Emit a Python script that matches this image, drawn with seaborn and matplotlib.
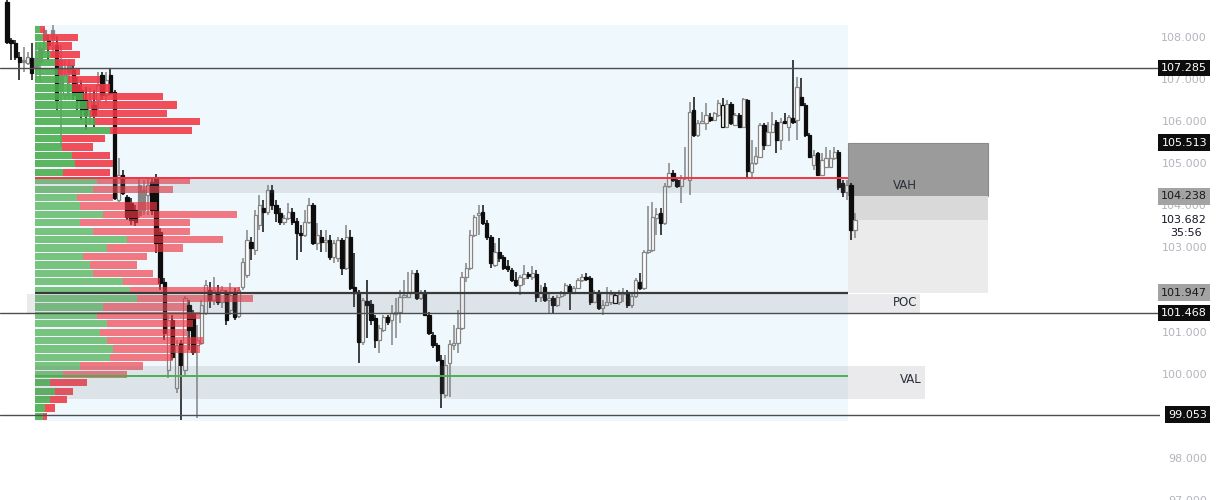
import numpy as np
import matplotlib
matplotlib.use("Agg")
import matplotlib.pyplot as plt
import matplotlib.transforms as mtransforms
from matplotlib.patches import Rectangle
from matplotlib.colors import to_rgba
import seaborn as sns

# ---- candles (one per bar, oldest first) ----
opens = [108.85, 107.95, 107.88, 107.55, 107.48, 107.41, 107.53, 107.53, 107.76, 108.19,
         107.95, 108.19, 107.83, 107.48, 106.65, 107.36, 107.24, 106.88, 106.76, 106.53,
         106.29, 106.41, 106.53, 107.12, 106.65, 107.12, 106.72, 104.15, 104.75, 104.22,
         104.08, 103.91, 104.51, 104.39, 104.27, 104.58, 104.67, 103.39, 102.20, 100.11,
         101.30, 99.69, 100.76, 100.11, 101.66, 101.47, 100.71, 100.76, 101.47, 102.01,
         101.78, 101.97, 101.73, 101.97, 101.54, 101.97, 101.40, 102.09, 102.37, 103.15,
         102.96, 103.56, 103.96, 103.87, 104.39, 104.03, 103.84, 103.63, 103.72, 103.87,
         103.65, 103.37, 103.32, 103.63, 104.03, 103.13, 103.27, 103.15, 103.20, 102.80,
         102.78, 103.20, 102.54, 103.27, 102.09, 101.97, 100.78, 101.75, 101.68, 101.35,
         100.83, 101.06, 101.37, 101.30, 101.44, 101.49, 101.85, 101.85, 101.97, 102.42,
         101.82, 101.97, 101.42, 100.95, 100.71, 100.35, 99.52, 100.28, 100.71, 100.76,
         101.11, 102.32, 102.54, 103.32, 103.80, 103.87, 103.61, 103.27, 102.61, 102.92,
         102.80, 102.58, 102.49, 102.25, 102.13, 102.30, 102.39, 102.32, 102.39, 101.85,
         102.09, 101.78, 101.82, 101.66, 101.87, 101.94, 102.11, 101.94, 102.06, 102.25,
         102.32, 102.30, 101.73, 101.97, 101.59, 101.66, 101.73, 101.71, 101.73, 101.94,
         101.97, 101.66, 101.87, 102.20, 102.06, 102.92, 102.96, 103.72, 103.84, 103.61,
         104.49, 104.79, 104.63, 104.49, 104.67, 104.63, 106.29, 105.70, 105.98, 105.98,
         106.12, 106.05, 106.17, 105.89, 105.89, 106.43, 105.93, 106.17, 105.89, 106.53,
         104.82, 105.03, 105.17, 105.93, 105.46, 105.77, 106.00, 105.58, 106.03, 105.89,
         106.10, 106.05, 106.60, 106.41, 105.70, 104.98, 105.27, 104.75, 104.94, 104.94,
         105.15, 105.29, 104.56, 104.34, 104.51, 103.44]
highs = [109.14, 108.00, 107.95, 107.67, 107.79, 107.67, 107.88, 107.88, 107.88, 108.24,
         108.07, 108.31, 108.05, 107.83, 107.48, 107.48, 107.36, 107.07, 107.00, 106.84,
         106.81, 106.76, 107.19, 107.19, 107.19, 107.29, 106.76, 105.15, 104.86, 104.27,
         104.20, 104.03, 104.67, 104.63, 104.67, 104.67, 104.77, 103.49, 102.30, 101.42,
         101.42, 100.83, 100.83, 101.87, 101.78, 101.54, 101.18, 101.78, 102.25, 102.20,
         102.32, 102.13, 102.11, 102.01, 102.18, 102.06, 102.09, 102.78, 103.44, 103.27,
         103.91, 104.27, 104.15, 104.51, 104.51, 104.15, 103.96, 103.80, 104.08, 103.96,
         103.72, 103.56, 103.91, 104.20, 104.08, 103.61, 103.44, 103.44, 103.32, 103.20,
         103.27, 103.25, 103.56, 103.44, 102.89, 102.01, 101.82, 102.25, 101.78, 101.42,
         101.18, 101.42, 101.42, 101.66, 101.82, 102.01, 102.25, 102.44, 102.49, 102.49,
         102.01, 102.01, 101.49, 101.02, 100.76, 100.47, 100.47, 100.83, 101.18, 101.54,
         102.44, 102.66, 103.44, 103.80, 104.03, 104.03, 103.68, 103.32, 103.13, 103.25,
         102.85, 102.73, 102.54, 102.44, 102.37, 102.61, 102.44, 102.58, 102.49, 102.13,
         102.18, 101.94, 101.87, 101.90, 101.99, 102.18, 102.16, 102.11, 102.30, 102.39,
         102.42, 102.35, 102.01, 102.01, 101.78, 102.09, 102.01, 101.97, 102.01, 102.06,
         102.01, 101.92, 102.30, 102.42, 102.96, 104.01, 104.10, 103.96, 103.96, 104.56,
         105.03, 104.86, 104.67, 104.75, 105.41, 106.48, 106.60, 106.05, 106.24, 106.46,
         106.22, 106.24, 106.53, 106.58, 106.53, 106.48, 106.22, 106.22, 106.58, 106.55,
         105.58, 105.41, 105.98, 105.98, 106.00, 106.24, 106.05, 106.10, 106.22, 106.17,
         107.48, 107.07, 107.05, 106.46, 105.74, 105.34, 105.29, 105.27, 105.41, 105.34,
         105.41, 105.34, 104.63, 104.63, 104.56, 103.84]
lows = [107.86, 107.48, 107.48, 107.00, 107.19, 107.36, 107.00, 106.95, 106.95, 107.64,
        107.48, 107.55, 106.29, 105.41, 106.53, 106.53, 106.53, 106.29, 106.05, 105.81,
        105.93, 105.89, 106.29, 106.53, 106.46, 106.65, 104.15, 104.10, 104.27, 103.68,
        103.56, 103.54, 103.72, 103.80, 103.80, 103.80, 102.89, 102.01, 100.83, 99.92,
        100.35, 99.57, 98.93, 99.99, 100.59, 100.47, 98.97, 100.71, 101.42, 101.59,
        101.66, 101.66, 101.59, 101.18, 101.42, 101.30, 101.35, 102.01, 102.30, 102.73,
        102.85, 103.44, 103.39, 103.80, 103.91, 103.63, 103.56, 103.56, 103.68, 103.56,
        102.73, 102.92, 103.27, 103.58, 103.08, 102.96, 102.92, 102.92, 102.73, 102.66,
        102.68, 102.37, 102.49, 102.01, 101.61, 100.28, 100.71, 100.88, 101.18, 100.64,
        100.52, 101.02, 101.18, 100.71, 100.88, 101.23, 101.82, 101.82, 101.92, 101.78,
        101.78, 101.40, 100.95, 100.64, 100.30, 99.21, 99.45, 99.47, 100.59, 100.52,
        101.06, 102.20, 102.49, 103.27, 103.32, 103.56, 103.20, 102.54, 102.56, 102.68,
        102.49, 102.44, 102.20, 102.09, 101.90, 102.13, 102.28, 102.25, 101.73, 101.73,
        101.73, 101.47, 101.47, 101.61, 101.82, 101.87, 101.54, 101.92, 102.04, 102.20,
        102.23, 101.66, 101.71, 101.54, 101.42, 101.63, 101.66, 101.68, 101.66, 101.73,
        101.59, 101.59, 101.82, 102.01, 102.01, 102.87, 102.92, 103.32, 103.32, 103.56,
        104.44, 104.58, 104.44, 104.08, 104.63, 104.27, 105.65, 105.65, 105.96, 105.81,
        106.00, 106.03, 106.12, 105.86, 105.86, 105.93, 105.91, 105.86, 105.86, 104.67,
        104.67, 104.98, 105.15, 105.34, 105.43, 105.74, 105.27, 105.34, 105.96, 105.55,
        105.96, 105.58, 106.39, 105.65, 105.15, 104.86, 104.72, 104.72, 104.91, 104.91,
        105.10, 104.39, 104.22, 104.15, 103.20, 103.25]
closes = [107.91, 107.88, 107.55, 107.43, 107.43, 107.55, 107.17, 107.29, 107.43, 107.95,
          107.83, 108.00, 106.53, 106.76, 107.12, 107.19, 106.65, 106.53, 106.29, 106.17,
          106.53, 106.17, 106.88, 106.65, 107.00, 106.69, 104.20, 104.75, 104.32, 103.75,
          103.68, 103.63, 103.80, 103.91, 104.51, 103.91, 103.13, 102.18, 100.99, 101.30,
          100.42, 100.71, 100.23, 101.82, 101.06, 100.54, 100.83, 101.66, 102.13, 101.78,
          102.01, 101.73, 102.01, 101.30, 101.90, 101.37, 102.01, 102.68, 103.20, 103.01,
          103.80, 104.03, 103.87, 104.39, 104.03, 103.84, 103.63, 103.72, 103.87, 103.63,
          103.37, 103.32, 103.63, 104.03, 103.13, 103.32, 103.15, 103.20, 102.80, 103.13,
          103.20, 102.54, 103.27, 102.06, 101.94, 100.78, 101.78, 101.66, 101.30, 100.83,
          101.11, 101.37, 101.25, 101.47, 101.49, 101.85, 101.90, 101.97, 102.42, 101.82,
          101.94, 101.42, 100.99, 100.71, 100.35, 99.57, 100.23, 100.73, 100.76, 101.11,
          102.32, 102.54, 103.32, 103.75, 103.84, 103.61, 103.27, 102.66, 102.92, 102.78,
          102.54, 102.51, 102.25, 102.13, 102.32, 102.39, 102.35, 102.42, 101.85, 101.97,
          101.78, 101.82, 101.66, 101.85, 101.94, 102.13, 101.97, 102.06, 102.25, 102.32,
          102.28, 101.73, 101.97, 101.59, 101.66, 101.73, 101.92, 101.90, 101.92, 101.92,
          101.66, 101.87, 102.25, 102.06, 102.92, 102.96, 103.75, 103.82, 103.61, 104.49,
          104.79, 104.63, 104.49, 104.67, 104.70, 106.24, 105.70, 105.98, 106.03, 106.17,
          106.05, 106.22, 106.46, 106.41, 106.43, 105.98, 106.17, 105.89, 106.55, 104.84,
          105.03, 105.20, 105.93, 105.46, 105.77, 105.96, 105.58, 106.00, 105.98, 106.12,
          106.00, 106.84, 106.41, 105.70, 105.17, 105.22, 104.75, 105.10, 105.15, 105.15,
          105.29, 104.46, 104.34, 104.51, 103.44, 103.68]

# ---- fixed range volume profile, rows of 0.2 from the top down ----
profile_top = 108.31
row_size = 0.2
up_volume = [5, 8, 12, 15, 20, 23, 33, 37, 48, 52, 55, 60, 75, 27, 27, 37, 40, 28, 62, 58,
             42, 45, 68, 45, 58, 92, 72, 48, 55, 58, 88, 95, 102, 68, 62, 72, 65, 72, 78, 75,
             45, 28, 15, 20, 15, 10, 8]
down_volume = [5, 35, 25, 30, 20, 22, 32, 38, 80, 90, 77, 105, 82, 43, 31, 38, 38, 47, 93, 80,
               36, 77, 134, 110, 97, 96, 76, 64, 47, 60, 37, 110, 116, 84, 103, 86, 87, 96, 87, 63,
               63, 64, 37, 18, 17, 10, 4]
poc = 101.947
vah = 104.67
val = 99.97

# ---- drawn levels and position tool ----
h_levels = [107.285, 101.468, 99.053]
pos_top, pos_entry, pos_last, pos_bottom = 105.513, 104.238, 103.682, 101.947
countdown = "35:56"
axis_ticks = [109, 108, 107, 106, 105, 104, 103, 102, 101, 100, 99, 98, 97]

sns.set_theme(style="white")
plt.rcParams['font.family'] = ['DejaVu Sans']

W, H = 1216, 500
fig = plt.figure(figsize=(W / 100, H / 100), dpi=100)
ax = fig.add_axes([0, 0, 1160 / W, 1])
ax.set_axis_off()

n = len(closes)
bar_px = 848 / (n - 1)          # pixels per bar
ax.set_xlim(-7 / bar_px, 1153 / bar_px)
ax.set_ylim(108.9026 - 500 / 42.1, 108.9026)

o = np.array(opens); c = np.array(closes)
h = np.maximum(np.array(highs), np.maximum(o, c))
l = np.minimum(np.array(lows), np.minimum(o, c))
idx = np.arange(n)

# profile range in bars
p_start, p_end = 6.8, 203.3
ax.add_patch(Rectangle((p_start, profile_top - row_size * len(up_volume)), p_end - p_start,
                       row_size * len(up_volume), fc='#eff8fc', ec='none', zorder=0))

# position tool boxes
b0, b1 = 203.3, 237.1
ax.add_patch(Rectangle((b0, pos_entry), b1 - b0, pos_top - pos_entry, fc='#9b9b9b', ec='#8a8a8a', lw=0.8, zorder=1))
ax.add_patch(Rectangle((b0, pos_last), b1 - b0, pos_entry - pos_last, fc='#d9d9d9', ec='none', zorder=1))
ax.add_patch(Rectangle((b0, pos_bottom), b1 - b0, pos_last - pos_bottom, fc='#ebebeb', ec='none', zorder=1))

# hollow candles: filled when close < open, grey when close >= previous close
prev = np.r_[o[0], c[:-1]]
col = np.where(c >= prev, '#858585', '#0d0d0d')
face = np.where(c > o, 'white', col)
ax.vlines(idx, l, h, colors=col, lw=1.1, zorder=2)
ax.bar(idx, np.maximum(np.abs(c - o), 0.03), bottom=np.minimum(o, c), width=0.8,
       color=face, edgecolor=col, linewidth=0.9, zorder=3)

# volume profile
up = np.array(up_volume, float); dn = np.array(down_volume, float)
centers = profile_top - row_size * (np.arange(len(up)) + 0.5)
scale = (218 / bar_px) / (up + dn).max()
in_va = (centers < vah) & (centers > val)
g_col = [to_rgba('#4caf50', 0.72 if v else 0.9) for v in in_va]
r_col = [to_rgba('#f23645', 0.66 if v else 0.88) for v in in_va]
ax.barh(centers, up * scale, left=p_start, height=row_size * 0.86, color=g_col, lw=0, zorder=4)
ax.barh(centers, dn * scale, left=p_start + up * scale, height=row_size * 0.86, color=r_col, lw=0, zorder=4)

# value area bands and lines
band = (0.45, 0.47, 0.5, 0.15)
ax.add_patch(Rectangle((p_start, vah - 0.36), p_end - p_start, 0.36, fc=band, ec='none', zorder=5))
ax.add_patch(Rectangle((4.8, 101.47), 220.7 - 4.8, 0.45, fc=band, ec='none', zorder=5))
ax.add_patch(Rectangle((p_start, 99.43), 221.9 - p_start, 0.78, fc=band, ec='none', zorder=5))
ax.hlines(vah, p_start, p_end, color='#f23645', lw=1.4, zorder=6)
ax.hlines(poc, p_start, p_end, color='#3a3a3a', lw=1.6, zorder=6)
ax.hlines(val, p_start, p_end, color='#4caf50', lw=1.4, zorder=6)
for name, y, xc in [("VAH", vah - 0.18, 217.0), ("POC", 101.72, 217.0), ("VAL", val - 0.08, 218.5)]:
    ax.text(xc, y, name, ha='center', va='center', fontsize=8.5, color='#2a2e39', zorder=7)

for lv in h_levels:
    ax.axhline(lv, color='#4d4d4d', lw=1.0, zorder=6)

# price scale
tr = mtransforms.blended_transform_factory(fig.transFigure, ax.transData)
xr = 1207 / W
for t in axis_ticks:
    ax.text(xr, t, f"{t:.3f}", transform=tr, ha='right', va='center', fontsize=8,
            color='#b2b5be', clip_on=False, zorder=7)
for lv in [107.285, pos_top, 101.468, 99.053]:
    ax.text(xr, lv, f"{lv:.3f}", transform=tr, ha='right', va='center', fontsize=8,
            color='white', clip_on=False, zorder=8,
            bbox=dict(boxstyle='square,pad=0.3', fc='#0d0d0d', ec='none'))
for lv in [pos_entry, pos_bottom]:
    ax.text(xr, lv, f"{lv:.3f}", transform=tr, ha='right', va='center', fontsize=8,
            color='#1a1a1a', clip_on=False, zorder=8,
            bbox=dict(boxstyle='square,pad=0.3', fc='#a3a3a3', ec='none'))
ax.text(xr, pos_last, f"{pos_last:.3f}", transform=tr, ha='right', va='center', fontsize=8,
        color='#131722', clip_on=False, zorder=8, bbox=dict(boxstyle='square,pad=0.3', fc='white', ec='none'))
ax.text(1170 / W, pos_last - 13 / 42.1, countdown, transform=tr, ha='left', va='center', fontsize=8,
        color='#131722', clip_on=False, zorder=8, bbox=dict(boxstyle='square,pad=0.2', fc='white', ec='none'))

fig.savefig("out.png", dpi=100)
